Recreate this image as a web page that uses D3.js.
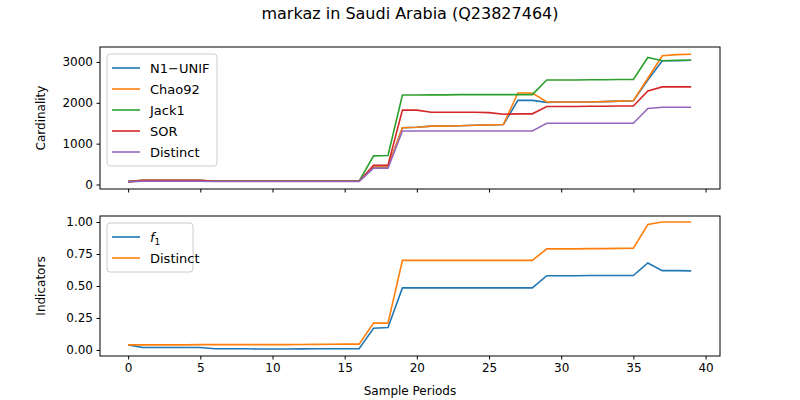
<!DOCTYPE html>
<html>
<head>
<meta charset="utf-8">
<script src="https://cdn.jsdelivr.net/npm/d3@7"></script>
<style>
body{margin:0;background:#fff}
text{font-family:"DejaVu Sans",sans-serif}
</style>
</head>
<body>
<svg id="svg" width="800" height="400"></svg>
<script>
var periods = d3.range(0, 40);
var n1unif = [70,90,90,90,90,90,80,80,80,80,80,80,80,80,80,80,80,430,430,1390,1400,1430,1430,1440,1450,1460,1470,2060,2060,2010,2020,2020,2020,2030,2040,2050,2560,3030,3030,3040];
var chao92 = [70,90,90,90,90,90,80,80,80,80,80,80,80,80,80,80,80,430,430,1390,1400,1430,1430,1440,1450,1460,1470,2240,2240,2020,2020,2020,2020,2030,2040,2050,2600,3150,3180,3190];
var jack1 = [70,100,100,100,100,100,80,80,80,80,80,80,80,80,80,80,80,700,710,2190,2190,2195,2195,2200,2200,2200,2200,2200,2200,2560,2560,2560,2565,2565,2570,2570,3110,3030,3040,3040];
var sor = [70,100,100,100,100,100,80,80,80,80,80,80,80,80,80,80,80,470,470,1820,1820,1770,1770,1770,1770,1760,1720,1730,1730,1910,1910,1910,1915,1915,1920,1920,2290,2390,2390,2390];
var distinct = [70,80,80,80,80,80,75,75,75,75,75,75,75,75,75,75,75,400,400,1310,1310,1310,1310,1310,1310,1310,1310,1310,1310,1500,1500,1500,1500,1500,1500,1500,1860,1890,1890,1890];
var f1 = [0.04,0.02,0.02,0.02,0.02,0.02,0.01,0.01,0.01,0.008,0.008,0.008,0.009,0.01,0.01,0.01,0.01,0.17,0.175,0.485,0.485,0.485,0.485,0.485,0.485,0.485,0.485,0.485,0.485,0.58,0.58,0.58,0.582,0.582,0.582,0.582,0.68,0.62,0.62,0.618];
var distinctRatio = [0.04,0.04,0.04,0.04,0.04,0.042,0.042,0.042,0.042,0.042,0.042,0.042,0.043,0.044,0.045,0.046,0.046,0.21,0.21,0.70,0.70,0.70,0.70,0.70,0.70,0.70,0.70,0.70,0.70,0.79,0.79,0.79,0.792,0.792,0.794,0.795,0.98,1.0,1.0,1.0];
var xTicks = [0,5,10,15,20,25,30,35,40];
var topTicks = [0,1000,2000,3000];
var botTicks = [0,0.25,0.5,0.75,1.0];
var colors = ["#1f77b4","#ff7f0e","#2ca02c","#d62728","#9467bd"];

var svg = d3.select("#svg");
var x = d3.scaleLinear().domain([-1.95, 41]).range([100, 720]);

svg.append("text").attr("x", 410).attr("y", 19).attr("text-anchor", "middle")
  .attr("font-size", 16).text("markaz in Saudi Arabia (Q23827464)");

function panel(top, bottom, y, ticks, fmt, series, names, label, showX){
  var g = svg.append("g");
  var line = d3.line().x(function(d, i){ return x(periods[i]); }).y(function(d){ return y(d); });
  series.forEach(function(s, i){
    g.append("path").attr("d", line(s)).attr("fill", "none")
      .attr("stroke", colors[i]).attr("stroke-width", 1.6);
  });
  var ya = g.append("g").attr("transform", "translate(100,0)")
    .call(d3.axisLeft(y).tickValues(ticks).tickFormat(fmt).tickSize(3.5).tickPadding(3.5));
  var xa = g.append("g").attr("transform", "translate(0," + bottom + ")")
    .call(d3.axisBottom(x).tickValues(xTicks).tickSize(3.5).tickPadding(3.5).tickFormat(showX ? d3.format("d") : ""));
  [ya, xa].forEach(function(a){
    a.select(".domain").remove();
    a.selectAll("text").attr("font-size", 12).attr("font-family", "DejaVu Sans").attr("fill", "#000");
  });
  g.append("rect").attr("x", 100).attr("y", top).attr("width", 620).attr("height", bottom - top)
    .attr("fill", "none").attr("stroke", "#000").attr("stroke-width", 1);
  g.append("text").attr("transform", "translate(45," + ((top + bottom) / 2) + ") rotate(-90)")
    .attr("text-anchor", "middle").attr("font-size", 12).text(label);
  // legend
  var lg = g.append("g").attr("transform", "translate(107," + (top + 7) + ")");
  var w = names.length > 2 ? 110 : 86;
  lg.append("rect").attr("width", w).attr("height", names.length * 21 + 7).attr("rx", 3)
    .attr("fill", "#fff").attr("fill-opacity", 0.8).attr("stroke", "#ccc");
  names.forEach(function(n, i){
    var yy = 14 + i * 21;
    lg.append("line").attr("x1", 5).attr("x2", 33).attr("y1", yy).attr("y2", yy)
      .attr("stroke", colors[i]).attr("stroke-width", 1.6);
    var t = lg.append("text").attr("x", 43).attr("y", yy + 4.5).attr("font-size", 13);
    if (n === "f1") {
      t.append("tspan").attr("font-style", "italic").text("f");
      t.append("tspan").attr("dy", 3).attr("font-size", 9).text("1");
    } else t.text(n);
  });
}

var yTop = d3.scaleLinear().domain([-110, 3366]).range([189, 47]);
panel(47, 189, yTop, topTicks, d3.format("d"),
  [n1unif, chao92, jack1, sor, distinct], ["N1\u2212UNIF", "Chao92", "Jack1", "SOR", "Distinct"], "Cardinality", false);

var yBot = d3.scaleLinear().domain([-0.047, 1.047]).range([356, 216]);
panel(216, 356, yBot, botTicks, d3.format(".2f"),
  [f1, distinctRatio], ["f1", "Distinct"], "Indicators", true);

svg.append("text").attr("x", 410).attr("y", 395).attr("text-anchor", "middle")
  .attr("font-size", 12).text("Sample Periods");
</script>
</body>
</html>
